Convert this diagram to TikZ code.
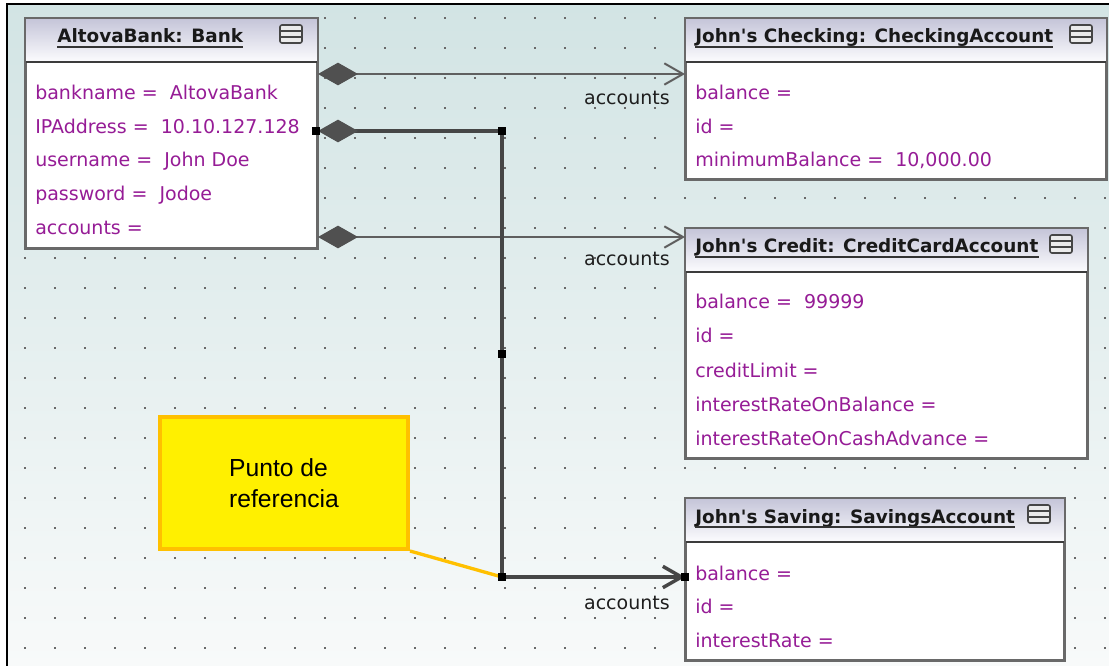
\documentclass[tikz,border=0pt]{standalone}
\usepackage{fontspec}
\setmainfont{DejaVu Sans}[Ligatures=TeXOff]
\newfontfamily\notefont{Liberation Sans}
\usetikzlibrary{arrows.meta,calc}
\definecolor{bgtop}{RGB}{210,228,228}
\definecolor{bgbot}{RGB}{248,250,250}
\definecolor{attrc}{RGB}{150,28,150}
\definecolor{boxline}{RGB}{105,105,105}
\definecolor{sepline}{RGB}{60,60,60}
\definecolor{hdrtop}{RGB}{196,196,216}
\definecolor{hdrbot}{RGB}{252,252,254}
\definecolor{connc}{RGB}{95,95,95}
\definecolor{connthk}{RGB}{70,70,70}
\definecolor{diamc}{RGB}{80,80,80}
\definecolor{dotc}{RGB}{105,105,105}
\definecolor{notefill}{RGB}{255,240,0}
\definecolor{noteline}{RGB}{255,192,0}
\definecolor{labelc}{RGB}{30,30,30}
\definecolor{iconc}{RGB}{70,70,70}
\tikzset{
  umlbox/.style={draw=boxline, line width=1.5pt, fill=white, anchor=north west, inner sep=0pt},
  hdrshade/.style={top color=hdrtop, bottom color=hdrbot},
  attr/.style={text=attrc, inner sep=0pt, anchor=base west, font=\fontsize{14.25}{17}\selectfont},
  objtitle/.style={text=black!90, inner sep=0pt, anchor=base west, font=\bfseries\fontsize{13.8}{17}\selectfont},
  uline/.style={draw=black!80, line width=1.4pt},
  lbl/.style={text=labelc, inner sep=0pt, anchor=base east, font=\fontsize{14.25}{17}\selectfont},
  conn/.style={draw=connc, line width=1.5pt},
  connbold/.style={draw=connthk, line width=2.6pt},
  diamtip/.style={{Diamond[length=30pt,width=17pt,fill=diamc,color=diamc]}-{Straight Barb[length=14pt,width=16pt]}},
  handle/.style={fill=black, draw=none, minimum size=6.5pt, inner sep=0pt},
  notebox/.style={anchor=north west, draw=noteline, fill=notefill, line width=3pt, minimum width=186pt, minimum height=99pt,
    align=left, inner sep=0pt, font=\notefont\fontsize{18.5}{23.25}\selectfont},
  menuicon/.pic={
    \draw[iconc, line width=1.2pt, fill=white!92!black, rounded corners=1.5pt] (-11,-9) rectangle (11,9);
    \draw[iconc, line width=1.2pt] (-11,-3) -- (11,-3) (-11,3) -- (11,3);
  }
}
\newcommand{\objheader}[1]{%
  \shade[hdrshade] (#1.north west) rectangle ($(#1.north east)+(0,44)$);
  \draw[sepline, line width=1.5pt] ($(#1.north west)+(0,44)$) -- ($(#1.north east)+(0,44)$);
  \draw[boxline, line width=1.5pt] (#1.north west) rectangle (#1.south east);
}
\begin{document}
\begin{tikzpicture}[x=0.75pt,y=-0.75pt]
\useasboundingbox (0,0) rectangle (1109,666);
\fill[white] (0,0) rectangle (1109,666);
\shade[top color=bgtop, bottom color=bgbot] (6.5,4) rectangle (1109,666);
\draw[black, line width=1.5pt] (6.5,666) -- (6.5,4) -- (1109,4);
% dot grid
\foreach \x in {25,55,...,1105}
  \foreach \y in {18,48,...,648}
    \fill[dotc] (\x-1,\y-1) rectangle (\x+1,\y+1);

% Bank
\node[umlbox, minimum width=218.25pt, minimum height=171.75pt] (bank) at (25,18) {};
\objheader{bank}
\node[objtitle] (bankT) at (57,43) {AltovaBank: Bank};
\draw[uline] ([yshift=-3pt]bankT.base west) -- ([yshift=-3pt]bankT.base east);
\pic at (291,34) {menuicon};
\node[attr] (b1) at (35,100) {bankname =\ \ AltovaBank};
\node[attr] (b2) at (35,134) {IPAddress =\ \ 10.10.127.128};
\node[attr] (b3) at (35,167) {username =\ \ John Doe};
\node[attr] (b4) at (35,201) {password =\ \ Jodoe};
\node[attr] (b5) at (35,235) {accounts =};

% Checking
\node[umlbox, minimum width=315pt, minimum height=120pt] (chk) at (685,18) {};
\objheader{chk}
\node[objtitle] (chkT) at (695,43) {John's Checking: CheckingAccount};
\draw[uline] ([yshift=-3pt]chkT.base west) -- ([yshift=-3pt]chkT.base east);
\pic at (1081,34) {menuicon};
\node[attr] (c1) at (695,100) {balance =};
\node[attr] (c2) at (695,134) {id =};
\node[attr] (c3) at (695,167) {minimumBalance =\ \ 10,000.00};

% Credit
\node[umlbox, minimum width=300.75pt, minimum height=171.75pt] (crd) at (685,228) {};
\objheader{crd}
\node[objtitle] (crdT) at (695,253) {John's Credit: CreditCardAccount};
\draw[uline] ([yshift=-3pt]crdT.base west) -- ([yshift=-3pt]crdT.base east);
\pic at (1061,244) {menuicon};
\node[attr] (d1) at (695,309) {balance =\ \ 99999};
\node[attr] (d2) at (695,343) {id =};
\node[attr] (d3) at (695,377) {creditLimit =};
\node[attr] (d4) at (695,411) {interestRateOnBalance =};
\node[attr] (d5) at (695,445) {interestRateOnCashAdvance =};

% Savings
\node[umlbox, minimum width=283.5pt, minimum height=120.75pt] (sav) at (685,498) {};
\objheader{sav}
\node[objtitle] (savT) at (695,523) {John's Saving: SavingsAccount};
\draw[uline] ([yshift=-3pt]savT.base west) -- ([yshift=-3pt]savT.base east);
\pic at (1039,514) {menuicon};
\node[attr] (s1) at (695,580) {balance =};
\node[attr] (s2) at (695,613) {id =};
\node[attr] (s3) at (695,647) {interestRate =};

% connectors
\coordinate (a1) at ($(bank.north east)+(0,56)$);
\coordinate (t1) at ($(chk.north west)+(0,56)$);
\draw[conn, diamtip] (a1) -- (t1);

\coordinate (a3) at ($(bank.north east)+(0,219)$);
\coordinate (t3) at ($(crd.north west)+(0,9)$);
\draw[conn, diamtip] (a3) -- (t3);

\coordinate (a2) at ($(bank.north east)+(0,113)$);
\coordinate (bend1) at ($(a2)+(184,0)$);
\coordinate (t2) at ($(sav.north west)+(0,79)$);
\coordinate (bend2) at (bend1 |- t2);
\draw[connbold, {Diamond[length=30pt,width=17pt,fill=diamc,color=diamc]}-{Straight Barb[length=14pt,width=16pt]}] (a2) -- (bend1) -- (bend2) -- (t2);

\node[lbl] (l1) at (670,105) {accounts};
\node[lbl] (l3) at (670,266) {accounts};
\node[lbl] (l2) at (670,609) {accounts};

% note
\node[notebox] (note) at (158,415) {Punto de\\referencia};
\draw[noteline, line width=2.5pt] (note.south east) -- (bend2);

% handles
\node[handle] (h1) at ($(a2)+(-2,0)$) {};
\node[handle] (h2) at (bend1) {};
\node[handle] (h3) at ($(bend1)!0.5!(bend2)$) {};
\node[handle] (h4) at (bend2) {};
\node[handle] (h5) at (t2) {};
\end{tikzpicture}
\end{document}
